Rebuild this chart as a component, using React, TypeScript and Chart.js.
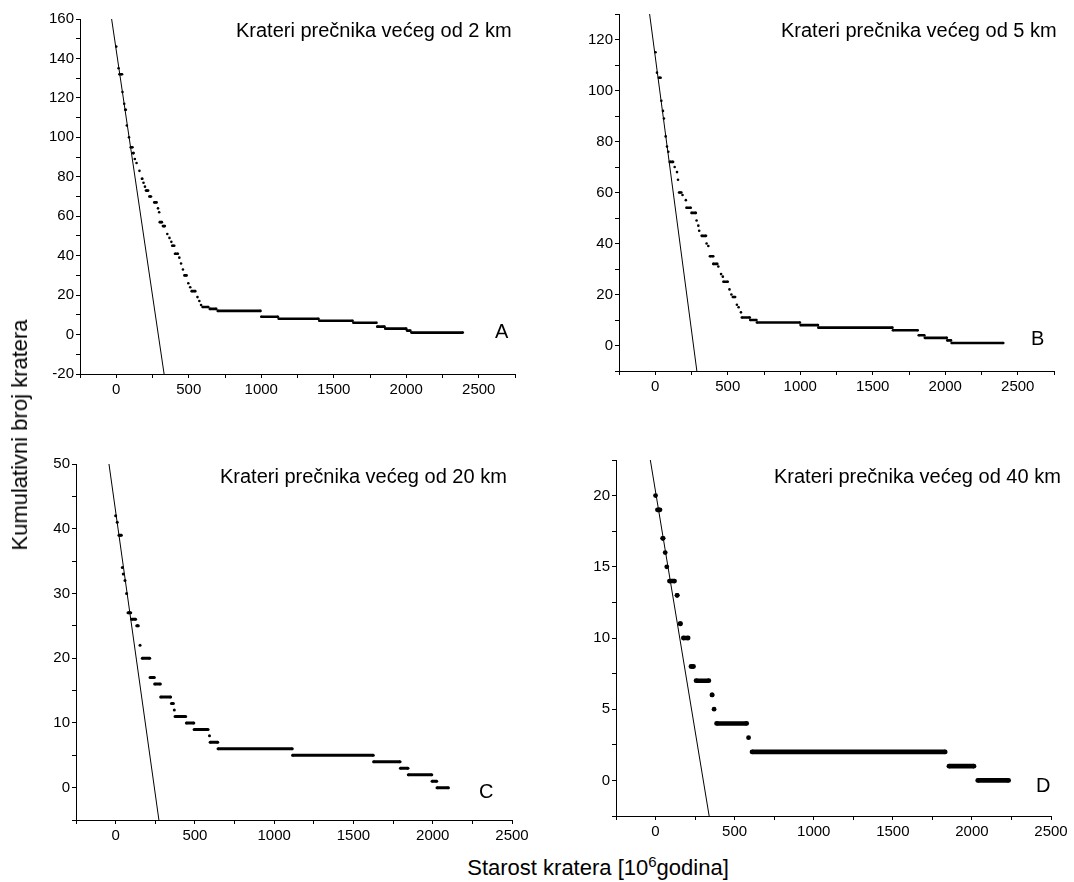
import React, { useEffect, useRef } from 'react';
import { Chart, registerables } from 'chart.js';

Chart.register(...registerables);

const FONT = "'Liberation Sans', Arial, Helvetica, sans-serif";

// ---------- Panel A: craters larger than 2 km ----------
const aStart = [0, 16, 22, 43, 55, 62, 73, 88, 100, 115, 128, 140, 160, 177, 188, 198, 205, 228, 262, 288, 296, 300, 322, 352, 367, 380, 386, 405, 435, 447, 460, 470, 497, 510, 520, 560, 573, 585, 595, 645, 700, 1000, 1120, 1400, 1635, 1800, 1855, 2005, 2035];
const aEnd = [0, 16, 40, 43, 55, 66, 73, 88, 112, 120, 128, 140, 160, 180, 188, 198, 220, 240, 278, 288, 296, 315, 335, 352, 367, 380, 400, 425, 435, 447, 460, 485, 497, 510, 545, 560, 573, 585, 635, 690, 995, 1115, 1395, 1630, 1795, 1850, 2000, 2028, 2390];
const aLevel = [146, 135, 132, 123, 117, 114, 106, 100, 95, 92, 89, 87, 83, 79, 77, 75, 73, 70, 67, 64, 62, 57, 55, 51, 49, 47, 45, 41, 39, 36, 33, 30, 26, 24, 22, 19, 17, 15, 14, 13, 12, 9, 8, 7, 6, 4, 3, 2, 1];
const aFitX = [-32, 330];
const aFitY = [160, -20];

// ---------- Panel B: craters larger than 5 km ----------
const bStart = [2, 12, 25, 42, 53, 60, 72, 81, 90, 100, 134, 150, 157, 164, 188, 211, 215, 250, 285, 297, 303, 320, 354, 366, 377, 400, 435, 454, 466, 470, 512, 525, 535, 563, 575, 591, 597, 655, 701, 1002, 1125, 1639, 1817, 1859, 2014, 2044];
const bEnd = [2, 12, 37, 42, 53, 60, 72, 81, 90, 123, 134, 150, 157, 180, 188, 211, 245, 280, 285, 297, 303, 350, 354, 366, 400, 428, 435, 454, 466, 500, 512, 525, 551, 563, 575, 591, 652, 698, 998, 1122, 1636, 1810, 1856, 2011, 2040, 2400];
const bLevel = [115, 107, 105, 96, 92, 89, 82, 78, 76, 72, 70, 68, 65, 60, 59, 57, 54, 52, 49, 47, 45, 43, 40, 39, 35, 32, 31, 28, 27, 25, 22, 20, 19, 16, 15, 13, 11, 10, 9, 8, 7, 6, 4, 3, 2, 1];
const bFitX = [-39, 287];
const bFitY = [130, -10];

// ---------- Panel C: craters larger than 20 km ----------
const cStart = [0, 10, 21, 42, 48, 59, 69, 78, 101, 133, 154, 168, 217, 246, 284, 352, 370, 375, 446, 495, 592, 596, 646, 1116, 1627, 1796, 1846, 1996, 2027];
const cEnd = [0, 10, 36, 42, 48, 59, 69, 95, 126, 143, 154, 215, 244, 282, 347, 364, 370, 442, 493, 583, 592, 644, 1114, 1625, 1794, 1844, 1994, 2025, 2099];
const cLevel = [42, 41, 39, 34, 33, 32, 30, 27, 26, 25, 22, 20, 17, 16, 14, 13, 12, 11, 10, 9, 8, 7, 6, 5, 4, 3, 2, 1, 0];
const cFitX = [-42, 273];
const cFitY = [50, -5];

// ---------- Panel D: craters larger than 40 km ----------
const dStart = [0, 12, 45, 61, 71, 88, 136, 155, 176, 224, 256, 357, 370, 386, 588, 610, 1855, 2037];
const dEnd = [0, 28, 48, 61, 71, 120, 137, 158, 206, 240, 337, 358, 370, 576, 588, 1831, 2013, 2232];
const dLevel = [20, 19, 17, 16, 15, 14, 13, 11, 10, 8, 7, 6, 5, 4, 3, 2, 1, 0];
const dFitX = [-33, 339];
const dFitY = [22.5, -2.5];

// ---------- Axis ranges / tick steps ----------
const xRangeAB = [-250, 2750];
const xRangeCD = [-250, 2500];
const xTickStep = [250, 500]; // minor, labelled
const yRangeA = [-20, 160];
const yTickA = [10, 20];
const yRangeB = [-10, 130];
const yTickB = [10, 20];
const yRangeC = [-5, 50];
const yTickC = [5, 10];
const yRangeD = [-2.5, 22.5];
const yTickD = [2.5, 5];

const titles = [
  'Krateri prečnika većeg od 2 km',
  'Krateri prečnika većeg od 5 km',
  'Krateri prečnika većeg od 20 km',
  'Krateri prečnika većeg od 40 km',
];
const letters = ['A', 'B', 'C', 'D'];
const yAxisTitle = 'Kumulativni broj kratera';
const xAxisTitleMain = 'Starost kratera [10';
const xAxisTitleSup = '6';
const xAxisTitleEnd = 'godina]';

function stepPoints(starts: number[], ends: number[], levels: number[]) {
  const pts: { x: number; y: number | null }[] = [];
  for (let i = 0; i < starts.length; i++) {
    pts.push({ x: starts[i], y: levels[i] });
    if (ends[i] !== starts[i]) pts.push({ x: ends[i], y: levels[i] });
    pts.push({ x: ends[i], y: null });
  }
  return pts;
}

function linePoints(xs: number[], ys: number[]) {
  return xs.map((x, i) => ({ x, y: ys[i] }));
}

const Y_W = 45;
const PAD_T = 12;
const X_H = 30;
const PAD_B = 2;

type PanelProps = {
  plot: { left: number; top: number; right: number; bottom: number };
  padR: number;
  steps: { x: number; y: number | null }[];
  fit: { x: number; y: number }[];
  xRange: number[];
  yRange: number[];
  yTicks: number[];
  lineW: number;
  dotR: number;
};

function isMajor(v: number, major: number) {
  const r = Math.abs(v / major - Math.round(v / major));
  return r < 1e-6;
}

function Panel(p: PanelProps) {
  const ref = useRef<HTMLCanvasElement | null>(null);
  const width = Y_W + (p.plot.right - p.plot.left) + p.padR;
  const height = PAD_T + (p.plot.bottom - p.plot.top) + X_H + PAD_B;
  useEffect(() => {
    if (!ref.current) return;
    const chart = new Chart(ref.current, {
      type: 'scatter',
      data: {
        datasets: [
          {
            data: p.steps as any,
            showLine: true,
            spanGaps: false,
            borderColor: '#000',
            backgroundColor: '#000',
            borderWidth: p.lineW,
            pointRadius: p.dotR,
            pointBorderWidth: 0,
            pointBackgroundColor: '#000',
            borderCapStyle: 'butt',
          },
          {
            data: p.fit as any,
            showLine: true,
            borderColor: '#000',
            borderWidth: 1,
            pointRadius: 0,
          },
        ],
      },
      options: {
        animation: false,
        responsive: false,
        events: [],
        layout: { padding: { left: 0, right: p.padR, top: PAD_T, bottom: PAD_B } },
        plugins: { legend: { display: false }, tooltip: { enabled: false }, title: { display: false } },
        scales: {
          x: {
            type: 'linear',
            position: 'bottom',
            min: p.xRange[0],
            max: p.xRange[1],
            afterFit: (s: any) => {
              s.height = X_H;
            },
            grid: { drawOnChartArea: false, drawTicks: true, tickLength: 4, tickColor: '#000', tickWidth: 1 },
            border: { display: true, color: '#000', width: 1 },
            ticks: {
              stepSize: xTickStep[0],
              autoSkip: false,
              maxRotation: 0,
              minRotation: 0,
              padding: 3,
              color: '#000',
              font: { family: FONT, size: 15 },
              callback: (v: any) => (isMajor(Number(v), xTickStep[1]) ? String(v) : ''),
            },
          },
          y: {
            type: 'linear',
            position: 'left',
            min: p.yRange[0],
            max: p.yRange[1],
            afterFit: (s: any) => {
              s.width = Y_W;
            },
            grid: { drawOnChartArea: false, drawTicks: true, tickLength: 4, tickColor: '#000', tickWidth: 1 },
            border: { display: true, color: '#000', width: 1 },
            ticks: {
              stepSize: p.yTicks[0],
              autoSkip: false,
              padding: 2,
              color: '#000',
              font: { family: FONT, size: 15 },
              callback: (v: any) => (isMajor(Number(v), p.yTicks[1]) ? String(v) : ''),
            },
          },
        },
      },
    } as any);
    return () => chart.destroy();
  }, []);
  return (
    <canvas
      ref={ref}
      width={width}
      height={height}
      style={{
        position: 'absolute',
        left: p.plot.left - Y_W,
        top: p.plot.top - PAD_T,
        width,
        height,
      }}
    />
  );
}

const textBase: React.CSSProperties = {
  position: 'absolute',
  fontFamily: FONT,
  color: '#000',
  whiteSpace: 'nowrap',
  lineHeight: 1,
};

export default function App() {
  return (
    <div
      style={{
        position: 'fixed',
        left: 0,
        top: 0,
        width: 1074,
        height: 882,
        overflow: 'hidden',
        background: '#fff',
      }}
    >
      <Panel
        plot={{ left: 80, top: 19, right: 515, bottom: 374 }}
        padR={25}
        steps={stepPoints(aStart, aEnd, aLevel)}
        fit={linePoints(aFitX, aFitY)}
        xRange={xRangeAB}
        yRange={yRangeA}
        yTicks={yTickA}
        lineW={2.6}
        dotR={1.3}
      />
      <Panel
        plot={{ left: 619, top: 14, right: 1054, bottom: 371 }}
        padR={18}
        steps={stepPoints(bStart, bEnd, bLevel)}
        fit={linePoints(bFitX, bFitY)}
        xRange={xRangeAB}
        yRange={yRangeB}
        yTicks={yTickB}
        lineW={2.6}
        dotR={1.3}
      />
      <Panel
        plot={{ left: 76, top: 464, right: 512, bottom: 820 }}
        padR={25}
        steps={stepPoints(cStart, cEnd, cLevel)}
        fit={linePoints(cFitX, cFitY)}
        xRange={xRangeCD}
        yRange={yRangeC}
        yTicks={yTickC}
        lineW={3}
        dotR={1.5}
      />
      <Panel
        plot={{ left: 616, top: 460, right: 1051, bottom: 816 }}
        padR={22}
        steps={stepPoints(dStart, dEnd, dLevel)}
        fit={linePoints(dFitX, dFitY)}
        xRange={xRangeCD}
        yRange={yRangeD}
        yTicks={yTickD}
        lineW={4.6}
        dotR={2.4}
      />

      <div style={{ ...textBase, left: 236, top: 20, fontSize: 20 }}>{titles[0]}</div>
      <div style={{ ...textBase, left: 781, top: 20, fontSize: 20 }}>{titles[1]}</div>
      <div style={{ ...textBase, left: 220, top: 466, fontSize: 20 }}>{titles[2]}</div>
      <div style={{ ...textBase, left: 774, top: 466, fontSize: 20 }}>{titles[3]}</div>

      <div style={{ ...textBase, left: 495, top: 321, fontSize: 20 }}>{letters[0]}</div>
      <div style={{ ...textBase, left: 1031, top: 328, fontSize: 20 }}>{letters[1]}</div>
      <div style={{ ...textBase, left: 479, top: 781, fontSize: 20 }}>{letters[2]}</div>
      <div style={{ ...textBase, left: 1036, top: 775, fontSize: 20 }}>{letters[3]}</div>

      <div
        style={{
          ...textBase,
          left: 20,
          top: 435,
          fontSize: 22,
          transform: 'translate(-50%, -50%) rotate(-90deg)',
        }}
      >
        {yAxisTitle}
      </div>
      <div
        style={{
          ...textBase,
          left: 598,
          top: 857,
          fontSize: 22,
          transform: 'translateX(-50%)',
        }}
      >
        {xAxisTitleMain}
        <sup style={{ fontSize: 15, verticalAlign: 'super', lineHeight: 0 }}>{xAxisTitleSup}</sup>
        {xAxisTitleEnd}
      </div>
    </div>
  );
}
